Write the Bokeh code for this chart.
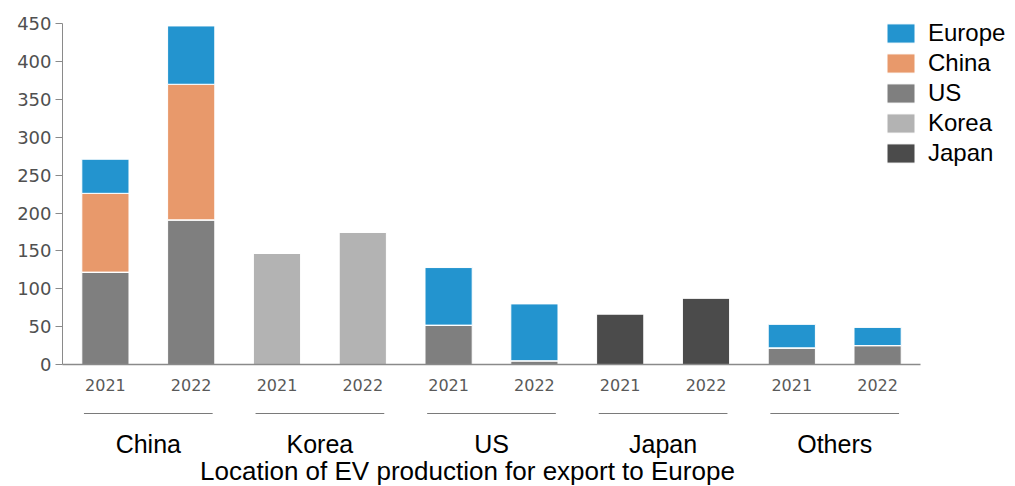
from bokeh.plotting import figure
from bokeh.models import ColumnDataSource, Legend, LegendItem, FixedTicker, Range1d
from bokeh.layouts import column
from bokeh.embed import file_html
from bokeh.resources import INLINE
from bokeh.core.properties import value

# ---- data ----
groups = ["China", "Korea", "US", "Japan", "Others"]
years = ["2021", "2022"]
# bar order: China21, China22, Korea21, Korea22, US21, US22, Japan21, Japan22, Others21, Others22
us_vals     = [122, 191, 0, 0, 52, 5, 0, 0, 22, 25]
korea_vals  = [0, 0, 147, 175, 0, 0, 0, 0, 0, 0]
japan_vals  = [0, 0, 0, 0, 0, 0, 67, 88, 0, 0]
china_vals  = [104, 179, 0, 0, 0, 0, 0, 0, 0, 0]
europe_vals = [45, 77, 0, 0, 76, 75, 0, 0, 31, 24]
y_ticks = [0, 50, 100, 150, 200, 250, 300, 350, 400, 450]
title_text = "Location of EV production for export to Europe"

colors = {"US": "#7f7f7f", "Korea": "#b3b3b3", "Japan": "#4b4b4b",
          "China": "#e8996b", "Europe": "#2394cf"}

n_bars = len(groups) * len(years)
xs = [i + 0.5 for i in range(n_bars)]
year_labels = [years[i % len(years)] for i in range(n_bars)]

src = ColumnDataSource(dict(x=xs, US=us_vals, Korea=korea_vals, Japan=japan_vals,
                            China=china_vals, Europe=europe_vals))

W = 1015
LEFT = 62
x_end = (W - LEFT) / 85.8   # frame extends right so the legend is not clipped

p = figure(width=W, height=403, x_range=Range1d(0, x_end), y_range=Range1d(0, 474),
           output_backend="svg", toolbar_location=None,
           min_border_left=LEFT, min_border_right=0, min_border_top=5, min_border_bottom=39)
p.outline_line_color = None
p.grid.grid_line_color = None
p.background_fill_color = "white"

stack_order = ["US", "Korea", "Japan", "China", "Europe"]
rs = p.vbar_stack(stack_order, x="x", width=0.55, source=src,
                  color=[colors[s] for s in stack_order],
                  line_color="white", line_width=1)
rmap = dict(zip(stack_order, rs))

# axes
p.yaxis.bounds = (0, y_ticks[-1])
p.yaxis.ticker = FixedTicker(ticks=y_ticks)
p.yaxis.minor_tick_line_color = None
p.yaxis.major_tick_out = 7
p.yaxis.major_tick_in = 0
p.yaxis.major_label_standoff = 4
p.yaxis.axis_line_color = "#8a8a8a"
p.yaxis.major_tick_line_color = "#8a8a8a"
p.yaxis.major_label_text_font = "DejaVu Sans"
p.yaxis.major_label_text_font_size = "18px"
p.yaxis.major_label_text_color = "#505050"

p.xaxis.bounds = (0, n_bars)
p.xaxis.ticker = FixedTicker(ticks=xs)
p.xaxis.major_label_overrides = {x: lab for x, lab in zip(xs, year_labels)}
p.xaxis.minor_tick_line_color = None
p.xaxis.major_tick_out = 0
p.xaxis.major_tick_in = 0
p.xaxis.major_label_standoff = 14
p.xaxis.axis_line_color = "#8a8a8a"
p.xaxis.axis_line_width = 1.5
p.xaxis.major_label_text_font = "DejaVu Sans"
p.xaxis.major_label_text_font_size = "16px"
p.xaxis.major_label_text_color = "#595959"

legend_order = ["Europe", "China", "US", "Korea", "Japan"]
legend = Legend(items=[LegendItem(label=k, renderers=[rmap[k]]) for k in legend_order],
                location=(821, 197), orientation="vertical",
                glyph_width=35, glyph_height=24, label_height=24, spacing=2,
                label_standoff=10, padding=0, margin=0,
                border_line_color=None, background_fill_alpha=0,
                label_text_font="Liberation Sans", label_text_font_size="24px",
                label_text_color="black")
p.add_layout(legend, "center")

# ---- lower panel: group underlines, group names, title ----
q = figure(width=W, height=83, x_range=p.x_range, y_range=Range1d(0, 83),
           output_backend="svg", toolbar_location=None,
           x_axis_type=None, y_axis_type=None,
           min_border_left=LEFT, min_border_right=0, min_border_top=0, min_border_bottom=0)
q.outline_line_color = None
q.grid.grid_line_color = None

g_centers = [len(years) * i + len(years) / 2 for i in range(len(groups))]
gsrc = ColumnDataSource(dict(x0=[c - 0.75 for c in g_centers], x1=[c + 0.75 for c in g_centers],
                             xc=g_centers, y=[73] * len(groups), ty=[43] * len(groups),
                             name=groups))
q.segment(x0="x0", y0="y", x1="x1", y1="y", source=gsrc, line_color="#7a7a7a", line_width=1.2)
q.text(x="xc", y="ty", text="name", source=gsrc, text_align="center",
       text_baseline="middle", text_font=value("Liberation Sans"),
       text_font_size="25px", text_color="black")
q.text(x=[4.72], y=[16], text=[title_text], text_align="center",
       text_baseline="middle", text_font=value("Liberation Sans"),
       text_font_size="26px", text_color="black")

layout = column(p, q, spacing=0)
open("out.html", "w").write(file_html(layout, INLINE))
